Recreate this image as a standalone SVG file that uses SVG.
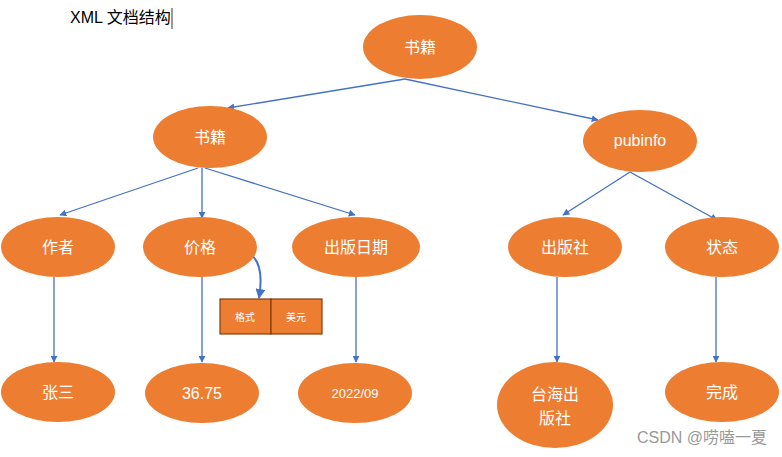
<svg xmlns="http://www.w3.org/2000/svg" width="782" height="457" viewBox="0 0 782 457">
<style>
.n{fill:#ED7D31;}
.t{font-family:"Liberation Sans","Noto Sans CJK SC",sans-serif;font-size:16px;fill:#fff;text-anchor:middle;}
.c{stroke:#4472C4;stroke-width:1.3;fill:none;marker-end:url(#ah);}
.s{font-family:"Liberation Sans","Noto Sans CJK SC",sans-serif;font-size:10px;fill:#fff;text-anchor:middle;}
</style>
<defs>
<marker id="ah" viewBox="0 0 10 10" refX="9" refY="5" markerWidth="7" markerHeight="7" orient="auto" markerUnits="userSpaceOnUse"><path d="M0,0 L10,5 L0,10 z" fill="#4472C4"/></marker>
<marker id="ah2" viewBox="0 0 10 10" refX="9" refY="5" markerWidth="10" markerHeight="10" orient="auto" markerUnits="userSpaceOnUse"><path d="M0,0 L10,5 L0,10 z" fill="#4472C4"/></marker>
</defs>
<rect width="782" height="457" fill="#fff"/>
<text x="70" y="23" font-family="Liberation Sans,Noto Sans CJK SC,sans-serif" font-size="16" fill="#000">XML 文档结构</text>
<line x1="172" y1="8" x2="172" y2="29" stroke="#000" stroke-width="0.8"/>
<g id="connectors">
<line class="c" x1="405" y1="79" x2="228" y2="108"/>
<line class="c" x1="405" y1="79" x2="598" y2="120"/>
<line class="c" x1="198" y1="168" x2="60" y2="215"/>
<line class="c" x1="202" y1="168" x2="202" y2="218"/>
<line class="c" x1="205" y1="168" x2="355" y2="215"/>
<line class="c" x1="630" y1="172" x2="563" y2="215"/>
<line class="c" x1="630" y1="172" x2="717" y2="220"/>
<line class="c" x1="54" y1="277" x2="54" y2="362"/>
<line class="c" x1="202" y1="277" x2="202" y2="362"/>
<line class="c" x1="356" y1="277" x2="356" y2="362"/>
<line class="c" x1="557" y1="277" x2="557" y2="362"/>
<line class="c" x1="716" y1="277" x2="716" y2="362"/>
<path d="M250,254 C262,262 262,280 259,298" stroke="#4472C4" stroke-width="2" fill="none" marker-end="url(#ah2)"/>
</g>
<g id="root"><ellipse class="n" cx="420" cy="47" rx="57" ry="32"/><text class="t" x="420" y="53">书籍</text></g>
<g id="book"><ellipse class="n" cx="210" cy="137" rx="57" ry="31"/><text class="t" x="210" y="143">书籍</text></g>
<g id="pubinfo"><ellipse class="n" cx="640" cy="141" rx="57" ry="31"/><text class="t" x="640" y="146">pubinfo</text></g>
<g id="author"><ellipse class="n" cx="58" cy="247" rx="57" ry="30"/><text class="t" x="58" y="253">作者</text></g>
<g id="price"><ellipse class="n" cx="200" cy="247" rx="57" ry="30"/><text class="t" x="200" y="253">价格</text></g>
<g id="pubdate"><ellipse class="n" cx="356" cy="247" rx="64" ry="30"/><text class="t" x="356" y="253">出版日期</text></g>
<g id="publisher"><ellipse class="n" cx="565" cy="247" rx="57" ry="30"/><text class="t" x="565" y="253">出版社</text></g>
<g id="status"><ellipse class="n" cx="722" cy="247" rx="57" ry="30"/><text class="t" x="722" y="253">状态</text></g>
<g id="format">
<rect x="220" y="299" width="51" height="35" fill="#ED7D31" stroke="#843C0C" stroke-width="1.2"/>
<rect x="271" y="299" width="51" height="35" fill="#ED7D31" stroke="#843C0C" stroke-width="1.2"/>
<text class="s" x="245" y="321">格式</text>
<text class="s" x="296" y="321">美元</text>
</g>
<g id="zhangsan"><ellipse class="n" cx="58" cy="392" rx="57" ry="30"/><text class="t" x="58" y="398">张三</text></g>
<g id="v3675"><ellipse class="n" cx="202" cy="393" rx="57" ry="30"/><text class="t" x="202" y="399">36.75</text></g>
<g id="v202209"><ellipse class="n" cx="355" cy="393" rx="57" ry="30"/><text class="t" x="355" y="398" style="font-size:13px">2022/09</text></g>
<g id="taihai"><ellipse class="n" cx="555" cy="405" rx="58" ry="43"/><text class="t" x="555" y="400">台海出</text><text class="t" x="555" y="424">版社</text></g>
<g id="done"><ellipse class="n" cx="722" cy="392" rx="57" ry="30"/><text class="t" x="722" y="398">完成</text></g>
<text x="767" y="443" font-family="Liberation Sans,Noto Sans CJK SC,sans-serif" font-size="16" fill="#999" text-anchor="end">CSDN @唠嗑一夏</text>
</svg>
